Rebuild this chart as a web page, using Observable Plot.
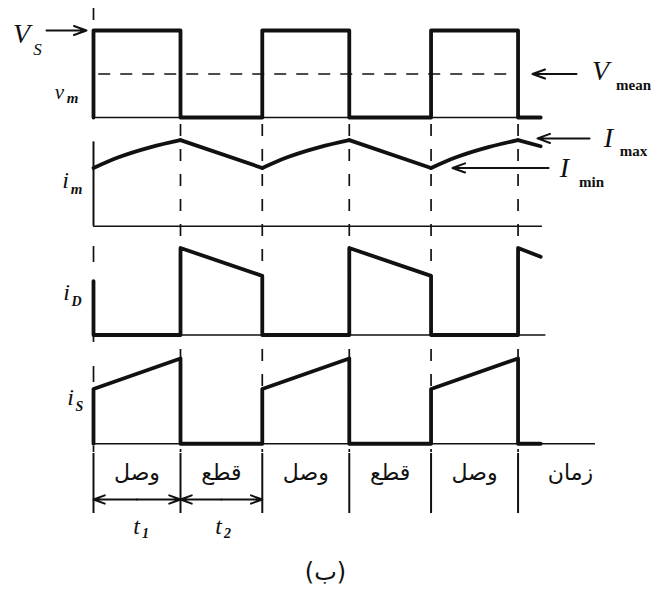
<!DOCTYPE html>
<html><head><meta charset="utf-8">
<script src="https://cdn.jsdelivr.net/npm/d3@7"></script>
<script src="https://cdn.jsdelivr.net/npm/@observablehq/plot@0.6"></script>
<style>body{margin:0;background:#fff}</style>
</head><body><div id="chart"></div>
<script>
// ---- data (time in units of t1, values normalised to Vs / Imax) ----
const switchTimes = [0, 1, 1.94, 2.94, 3.88, 4.88];
const Vs = 1, Vmean = 0.5, Imax = 0.99, Imin = 0.67;

const vmT = [0, 0, 1, 1, 1.94, 1.94, 2.94, 2.94, 3.88, 3.88, 4.88, 4.88, 5.14];
const vmV = [0, 1, 1, 0, 0, 1, 1, 0, 0, 1, 1, 0, 0];

// i_m drawn segment by segment (rise = curved, fall = straight)
const imSeg = [0, 0, 0, 0, 1, 1, 2, 2, 2, 2, 3, 3, 4, 4, 4, 4, 5, 5];
const imT = [0, 0.28, 0.66, 1, 1, 1.94, 1.94, 2.22, 2.60, 2.94, 2.94, 3.88, 3.88, 4.16, 4.54, 4.88, 4.88, 5.14];
const imV = [0.67, 0.79, 0.91, 0.99, 0.99, 0.67, 0.67, 0.79, 0.91, 0.99, 0.99, 0.67, 0.67, 0.79, 0.91, 0.99, 0.99, 0.92];

const iDT = [0, 0, 1, 1, 1.94, 1.94, 2.94, 2.94, 3.88, 3.88, 4.88, 4.88, 5.14];
const iDV = [0.62, 0, 0, 1.0, 0.68, 0, 0, 1.0, 0.68, 0, 0, 1.0, 0.90];

const iST = [0, 0, 1, 1, 1.94, 1.94, 2.94, 2.94, 3.88, 3.88, 4.88, 4.88, 5.14];
const iSV = [0, 0.63, 0.98, 0, 0, 0.63, 0.98, 0, 0, 0.63, 0.98, 0, 0];

const baseEnd = [5.14, 5.16, 5.2, 5.77];
const stateLabels = ["وصل", "قطع", "وصل", "قطع", "وصل"];
const timeLabel = "زمان";
const figLabel = "(ب)";

// ---- layout helpers ----
const step = 1.25;               // vertical offset between panels (value units)
const pan = (k, v) => v - k * step;
const ux = px => (px - 93) / 87;   // annotation placement helpers
const uy = py => (117 - py) / 87;

const series = [[vmT, vmV], [iDT, iDV], [iST, iSV]];
const panelOf = [0, 2, 3];
const wave = series.flatMap(([T, V], j) => T.map((t, i) => ({t, y: pan(panelOf[j], V[i]), k: j})));
const imPts = imT.map((t, i) => ({t, y: pan(1, imV[i]), s: imSeg[i]}));

const serif = "Liberation Serif, DejaVu Serif, serif";
const arab = "DejaVu Sans, sans-serif";

const mids = switchTimes.slice(0, 5).map((t, i) => (t + switchTimes[i + 1]) / 2);
const stateData = stateLabels.map((s, i) => ({x: mids[i], s}));

const italic = (data, size, extra = {}) => Plot.text(data, {x: "x", y: "y", text: "s", fontFamily: serif, fontStyle: "italic", fontSize: size, textAnchor: "middle", lineAnchor: "middle", fill: "#111", ...extra});
const arrowOpts = {x1: "x1", x2: "x2", y1: "y", y2: "y", stroke: "#111", strokeWidth: 2, headLength: 10, headAngle: 40};

const chart = Plot.plot({
  width: 657, height: 590, margin: 0,
  x: {domain: [ux(0), ux(657)], axis: null},
  y: {domain: [uy(590), uy(0)], axis: null},
  marks: [
    // dashed switching instants
    Plot.ruleX(switchTimes.slice(1), {x: d => d, y1: uy(124), y2: uy(452), stroke: "#111", strokeWidth: 1.7, strokeDasharray: "12,13"}),
    Plot.ruleX([0], {x: d => d, y1: uy(8), y2: uy(26), stroke: "#111", strokeWidth: 1.7, strokeDasharray: "12,13"}),
    Plot.ruleX([0], {x: d => d, y1: uy(246), y2: uy(452), stroke: "#111", strokeWidth: 1.7, strokeDasharray: "16,24"}),
    // thin baselines
    Plot.ruleY([0, 1, 2, 3], {y: k => pan(k, 0), x1: 0, x2: k => baseEnd[k], stroke: "#111", strokeWidth: 1.4}),
    // i_m axis
    Plot.ruleX([0], {x: d => d, y1: pan(1, 0), y2: pan(1, 0.97), stroke: "#111", strokeWidth: 2}),
    // mean voltage
    Plot.ruleY([Vmean], {y: d => pan(0, d), x1: 0.06, x2: 4.76, stroke: "#111", strokeWidth: 1.6, strokeDasharray: "12,10"}),
    // waveforms
    Plot.line(wave, {x: "t", y: "y", z: "k", stroke: "#111", strokeWidth: 3.8, strokeLinejoin: "round", strokeLinecap: "round"}),
    Plot.line(imPts, {x: "t", y: "y", z: "s", curve: "monotone-x", stroke: "#111", strokeWidth: 3.8, strokeLinejoin: "round", strokeLinecap: "round"}),
    // bottom separators
    Plot.ruleX(switchTimes, {x: d => d, y1: uy(453), y2: uy(513), stroke: "#111", strokeWidth: 2}),
    // t1 / t2 arrows
    Plot.arrow([[0, 1], [1, 1.94]].flatMap(([a, b]) => [{a: (a + b) / 2, b: a}, {a: (a + b) / 2, b}]),
      {x1: "a", x2: "b", y1: uy(499), y2: uy(499), stroke: "#111", strokeWidth: 2, headLength: 9, headAngle: 40}),
    // level arrows
    Plot.arrow([{x1: ux(46), x2: ux(86), y: pan(0, Vs)}], arrowOpts),
    Plot.arrow([{x1: ux(576), x2: ux(532), y: pan(0, Vmean)}], arrowOpts),
    Plot.arrow([{x1: ux(589), x2: ux(537), y: pan(1, Imax) + 0.02}], arrowOpts),
    Plot.arrow([{x1: ux(548), x2: ux(452), y: pan(1, Imin)}], arrowOpts),
    // math labels
    italic([{x: ux(21), y: uy(34), s: "V"}], 28),
    italic([{x: ux(37), y: uy(49), s: "S"}], 17),
    italic([{x: ux(59), y: uy(92), s: "v"}], 21),
    italic([{x: ux(72), y: uy(98), s: "m"}], 15, {fontWeight: "bold"}),
    italic([{x: ux(600), y: uy(71), s: "V"}], 28),
    italic([{x: ux(633), y: uy(85), s: "mean"}], 15, {fontStyle: "normal", fontWeight: "bold"}),
    italic([{x: ux(608), y: uy(138), s: "I"}], 28),
    italic([{x: ux(633), y: uy(151), s: "max"}], 15, {fontStyle: "normal", fontWeight: "bold"}),
    italic([{x: ux(564), y: uy(168), s: "I"}], 28),
    italic([{x: ux(591), y: uy(182), s: "min"}], 15, {fontStyle: "normal", fontWeight: "bold"}),
    italic([{x: ux(65), y: uy(180), s: "i"}], 24),
    italic([{x: ux(76), y: uy(189), s: "m"}], 15, {fontWeight: "bold"}),
    italic([{x: ux(66), y: uy(292), s: "i"}], 24),
    italic([{x: ux(76), y: uy(301), s: "D"}], 14, {fontWeight: "bold"}),
    italic([{x: ux(70), y: uy(397), s: "i"}], 24),
    italic([{x: ux(79), y: uy(406), s: "S"}], 14, {fontWeight: "bold"}),
    italic([{x: ux(136), y: uy(526), s: "t"}], 24),
    italic([{x: ux(145), y: uy(533), s: "1"}], 14, {fontWeight: "bold"}),
    italic([{x: ux(218), y: uy(526), s: "t"}], 24),
    italic([{x: ux(227), y: uy(533), s: "2"}], 14, {fontWeight: "bold"}),
    // Persian labels
    Plot.text(stateData, {x: "x", y: uy(472), text: "s", fontFamily: arab, fontSize: 22, textAnchor: "middle", lineAnchor: "middle", fill: "#111"}),
    Plot.text([timeLabel], {x: ux(570), y: uy(472), text: d => d, fontFamily: arab, fontSize: 22, textAnchor: "middle", lineAnchor: "middle", fill: "#111"}),
    Plot.text([figLabel], {x: ux(325), y: uy(572), text: d => d, fontFamily: arab, fontSize: 24, textAnchor: "middle", lineAnchor: "middle", fill: "#111"})
  ]
});
document.getElementById("chart").appendChild(chart);
</script>
</body></html>
